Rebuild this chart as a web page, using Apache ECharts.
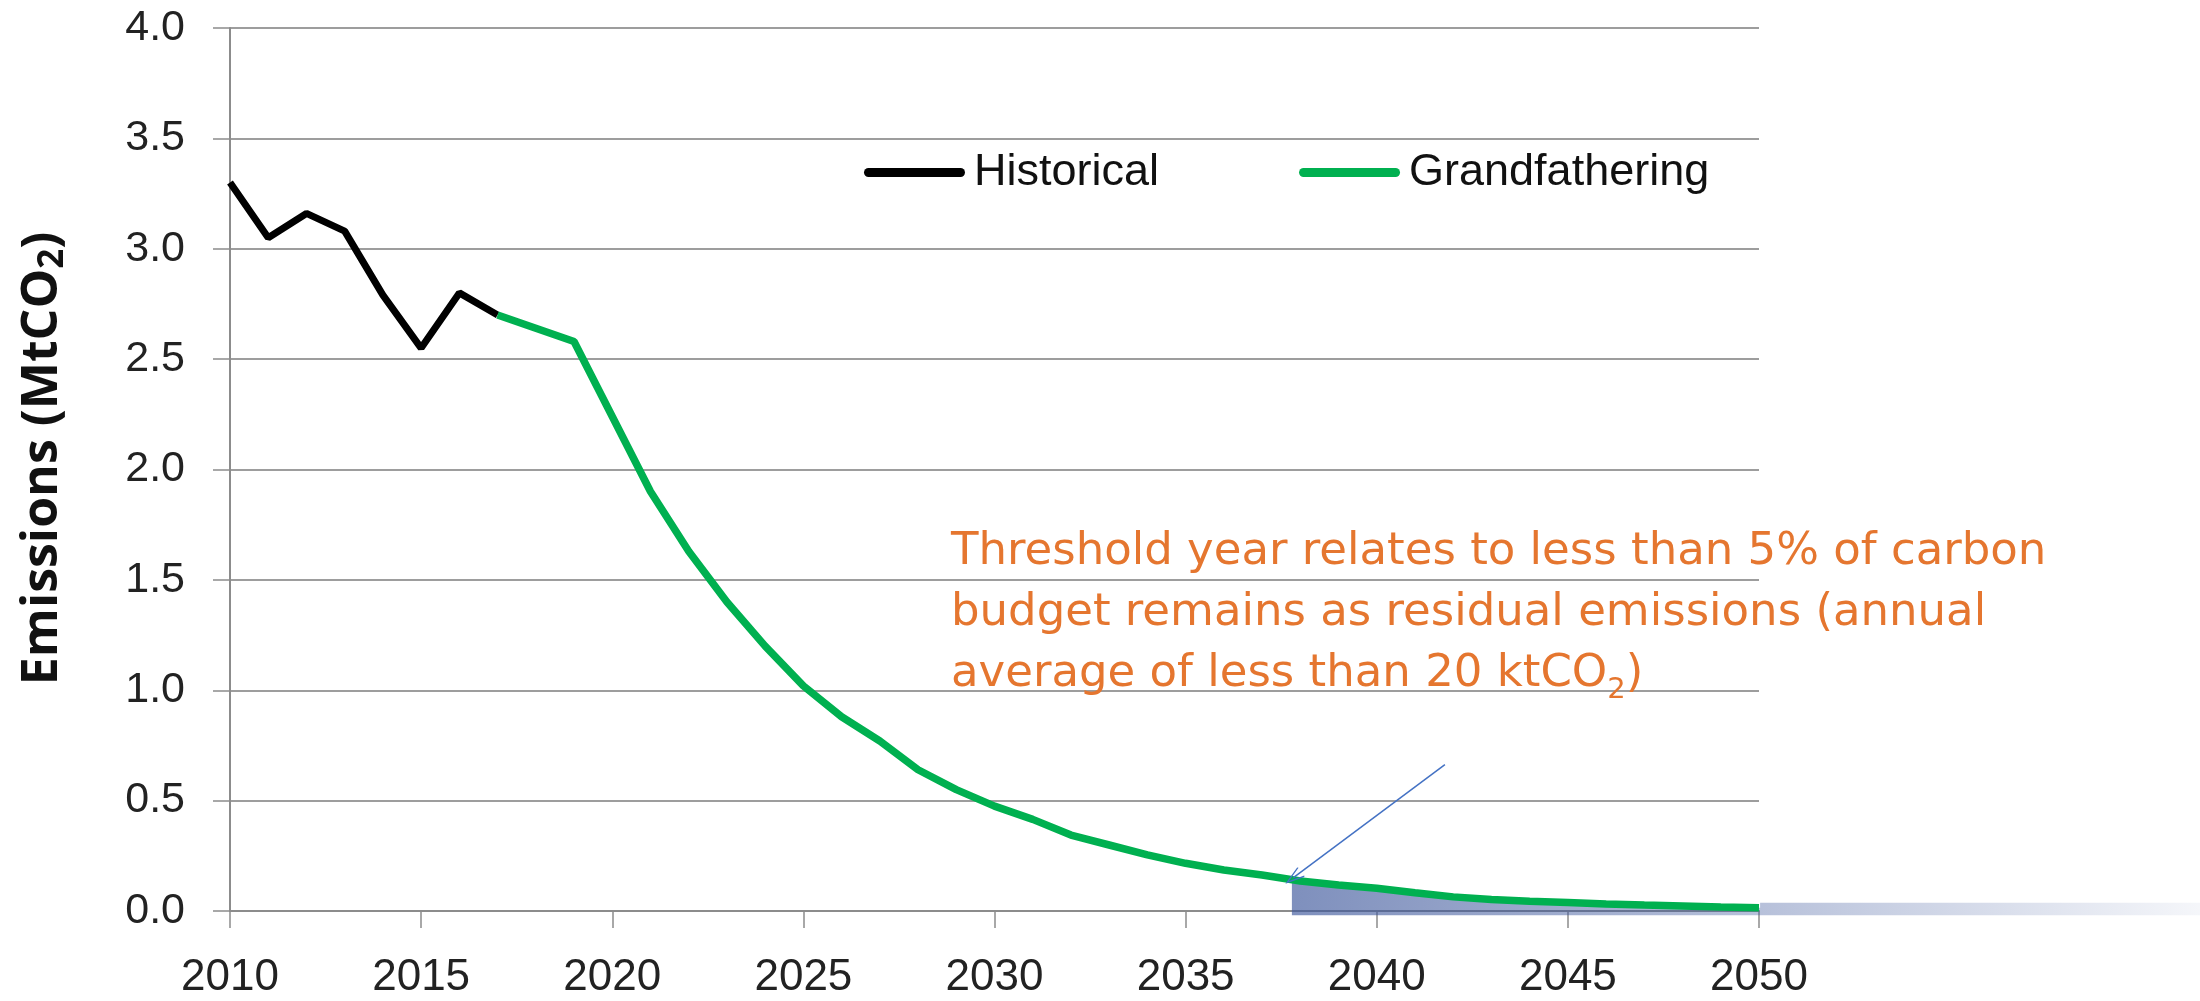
<!DOCTYPE html>
<html><head><meta charset="utf-8">
<script src="https://cdn.jsdelivr.net/npm/echarts@6/dist/echarts.min.js"></script>
<style>html,body{margin:0;padding:0;background:#fff}#c{width:2200px;height:1001px}</style>
</head><body><div id="c"></div>
<script>
// ---- data ----
const historicalYears  = [2010, 2011, 2012, 2013, 2014, 2015, 2016, 2017];
const historicalValues = [3.30, 3.05, 3.16, 3.08, 2.79, 2.55, 2.80, 2.70];

const grandYears  = [2017, 2018, 2019, 2020, 2021, 2022, 2023, 2024, 2025, 2026, 2027, 2028, 2029, 2030,
                     2031, 2032, 2033, 2034, 2035, 2036, 2037, 2038, 2039, 2040, 2041, 2042, 2043, 2044,
                     2045, 2046, 2047, 2048, 2049, 2050];
const grandValues = [2.70, 2.64, 2.58, 2.24, 1.90, 1.63, 1.40, 1.20, 1.02, 0.88, 0.77, 0.64, 0.55, 0.475,
                     0.415, 0.344, 0.299, 0.254, 0.216, 0.186, 0.163, 0.136, 0.118, 0.103, 0.083, 0.064, 0.052, 0.044,
                     0.038, 0.032, 0.027, 0.023, 0.018, 0.015];

const xTickMin = 2010, xTickMax = 2050, xTickStep = 5;
const yTickMin = 0, yTickMax = 4, yTickStep = 0.5;

// threshold / residual-budget annotation
const thresholdYear = 2037.76, thresholdValue = 0.15;
const residualBandTop = 0.037, residualBandBottom = -0.02;
const bandEndYear = 2061.5;
const arrowFrom = [2041.76, 0.663];
const arrowTo   = [2037.8, 0.151];

const legendNames = ['Historical', 'Grandfathering'];
const annotationLines = [
  'Threshold year relates to less than 5% of carbon',
  'budget remains as residual emissions (annual',
  'average of less than 20 ktCO'
];

// ---- build ----
const histData  = historicalYears.map((y, i) => [y, historicalValues[i]]);
const grandData = grandYears.map((y, i) => [y, grandValues[i]]);
const bandData = [[thresholdYear, thresholdValue]]
  .concat(grandData.filter(d => d[0] >= 2038))
  .concat([[xTickMax, residualBandTop], [bandEndYear, residualBandTop]]);

const GRAY = '#8c8c8c';
const TICKFONT = 'Liberation Sans';
const ORANGE = '#E5762F';

const chart = echarts.init(document.getElementById('c'), null, {renderer: 'canvas'});
chart.setOption({
  animation: false,
  backgroundColor: '#ffffff',
  title: {
    left: 946, top: 517,
    text: '{o|' + annotationLines[0] + '}\n{o|' + annotationLines[1] + '}\n{o|' + annotationLines[2] + '}{s|2}{o|)}',
    textStyle: {
      fontWeight: 'normal',
      rich: {
        o: {fontFamily: 'DejaVu Sans', fontWeight: 'normal', fontSize: 45, color: ORANGE, lineHeight: 61},
        s: {fontFamily: 'DejaVu Sans', fontWeight: 'normal', fontSize: 29, color: ORANGE, lineHeight: 14, verticalAlign: 'bottom'}
      }
    }
  },
  legend: {
    data: legendNames,
    left: 859, top: 145,
    itemWidth: 101, itemHeight: 9, itemGap: 140,
    icon: 'path://M4.5,0 L96.5,0 A4.5,4.5 0 0 1 96.5,9 L4.5,9 A4.5,4.5 0 0 1 4.5,0 Z',
    textStyle: {fontFamily: TICKFONT, fontSize: 45, color: '#111', padding: [0, 0, 0, 4]}
  },
  grid: [
    {left: 230, right: 441, top: 28, bottom: 90},
    {left: 230, right: 0, top: 28, bottom: 90 - 0.02 * 220.75}
  ],
  xAxis: [
    {
      type: 'value', gridIndex: 0, min: xTickMin, max: xTickMax, interval: xTickStep,
      axisLine: {show: true, lineStyle: {color: GRAY, width: 2}},
      axisTick: {show: true, length: 17, lineStyle: {color: GRAY, width: 1.5}},
      axisLabel: {fontFamily: TICKFONT, fontSize: 44, color: '#222', margin: 45, formatter: v => String(v)},
      splitLine: {show: false}
    },
    {type: 'value', gridIndex: 1, min: xTickMin, max: bandEndYear, show: false}
  ],
  yAxis: [
    {
      type: 'value', gridIndex: 0, min: yTickMin, max: yTickMax, interval: yTickStep,
      name: '{m|Emissions (MtCO}{sub|2}{m|)}',
      nameLocation: 'middle', nameRotate: 90, nameGap: 159,
      nameTextStyle: {
        padding: [0, 0, 0, 22],
        rich: {
          m: {fontFamily: 'Open Sans', fontWeight: 'bold', fontSize: 50, color: '#111', lineHeight: 56},
          sub: {fontFamily: 'Open Sans', fontWeight: 'bold', fontSize: 35, color: '#111', lineHeight: 23, verticalAlign: 'bottom'}
        }
      },
      axisLine: {show: true, lineStyle: {color: GRAY, width: 2}},
      axisTick: {show: true, length: 17, lineStyle: {color: GRAY, width: 1.5}},
      axisLabel: {fontFamily: TICKFONT, fontSize: 43, color: '#222', margin: 45, formatter: v => v.toFixed(1)},
      splitLine: {show: true, lineStyle: {color: '#9d9d9d', width: 2}}
    },
    {type: 'value', gridIndex: 1, min: residualBandBottom, max: yTickMax, show: false}
  ],
  series: [
    {
      name: 'Historical', type: 'line', xAxisIndex: 0, yAxisIndex: 0,
      data: histData, symbol: 'none', color: '#000000',
      lineStyle: {color: '#000000', width: 7}
    },
    {
      name: 'Grandfathering', type: 'line', xAxisIndex: 0, yAxisIndex: 0,
      data: grandData, symbol: 'none', color: '#00B050',
      lineStyle: {color: '#00B050', width: 7.5}
    },
    {
      name: 'Residual', type: 'line', xAxisIndex: 1, yAxisIndex: 1,
      data: bandData, symbol: 'none', silent: true,
      lineStyle: {width: 0},
      areaStyle: {
        origin: 'start',
        color: new echarts.graphic.LinearGradient(0, 0, 1, 0, [
          {offset: 0, color: 'rgba(60,86,155,0.66)'},
          {offset: 0.5, color: 'rgba(60,86,155,0.38)'},
          {offset: 1, color: 'rgba(60,86,155,0.05)'}
        ]),
        opacity: 1
      },
      markLine: {
        silent: true,
        symbol: ['none', 'path://M5,0 L10,11 L9,11.5 L5,2.5 L1,11.5 L0,11 Z'],
        symbolSize: [12, 20],
        label: {show: false},
        lineStyle: {color: '#4472C4', width: 1.5, type: 'solid'},
        data: [[{coord: arrowFrom}, {coord: arrowTo}]]
      }
    }
  ]
});
</script></body></html>
